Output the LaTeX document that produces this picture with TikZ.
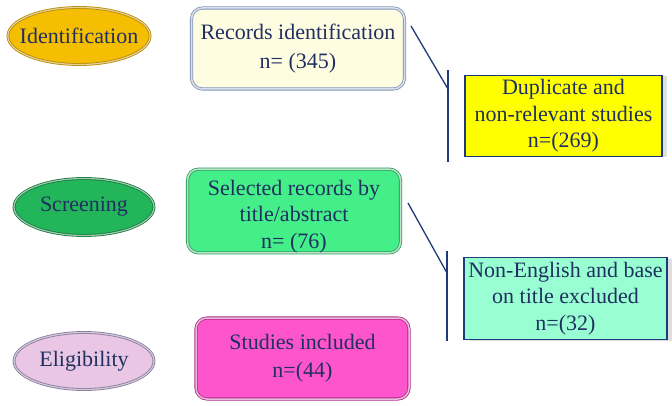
\documentclass[tikz,border=0pt]{standalone}
\usepackage{fontspec}
\setmainfont{Liberation Serif}
\usetikzlibrary{shapes.geometric,shadows}
\definecolor{txt}{HTML}{1F3060}
\definecolor{lnc}{HTML}{1F3A78}
\definecolor{goldf}{HTML}{F5BE00}\definecolor{goldd}{HTML}{B88A00}
\definecolor{creamf}{HTML}{FFFDE1}\definecolor{creamd}{HTML}{8096B8}
\definecolor{yelf}{HTML}{FFFF00}
\definecolor{gref}{HTML}{22B55A}\definecolor{gred}{HTML}{137A3C}
\definecolor{gbf}{HTML}{44EE88}\definecolor{gbd}{HTML}{2A9F58}
\definecolor{aquaf}{HTML}{99FFD2}
\definecolor{lavf}{HTML}{E8C6E4}\definecolor{lavd}{HTML}{8A7A9E}
\definecolor{pinkf}{HTML}{FF55CC}\definecolor{pinkd}{HTML}{B02888}
\tikzset{
  every node/.style={text=txt, font=\fontsize{22}{26.5}\selectfont, align=center, inner sep=0pt},
  stage/.style={ellipse, draw=#1, line width=0.8pt, double=white!60!#1, double distance=1.2pt, minimum width=140pt, minimum height=57pt},
  rbox/.style={rounded corners=11pt, draw=#1, line width=0.8pt, double=white!70!#1, double distance=1.5pt, minimum width=213pt, minimum height=81pt},
  sbox/.style={draw=lnc, line width=1.2pt, minimum height=81pt, drop shadow={shadow xshift=5pt, shadow yshift=-1pt, opacity=0.25}},
  conn/.style={draw=lnc, line width=1.3pt}
}
\begin{document}
\begin{tikzpicture}[x=1pt,y=-1pt]
\useasboundingbox (0,0) rectangle (672,406);
% stages
\node[stage=goldd, fill=goldf, inner xsep=-9pt] (id) at (79,36) {Identification};
\node[stage=gred, fill=gref] (scr) at (84,207) {Screening};
\node[stage=lavd, fill=lavf] (eli) at (84,361) {Eligibility};
% main boxes
\node[rbox=creamd, fill=creamf, font=\fontsize{22}{29}\selectfont] (rec) at (298,48.5) {Records identification\\n= (345)};
\node[rbox=gbd, fill=gbf] (sel) at (294,211) {\rule{0pt}{26pt}Selected records by\\title/abstract\\n= (76)};
\node[rbox=pinkd, fill=pinkf, font=\fontsize{22}{28}\selectfont] (stu) at (302.5,358.5) {Studies included\\n=(44)};
% side boxes
\node[sbox, fill=yelf, minimum width=197pt] (dup) at (563.5,116) {Duplicate and\\non-relevant studies\\n=(269)};
\node[sbox, fill=aquaf, minimum width=203pt, minimum height=82pt] (non) at (565.5,298.5) {Non-English and base\\on title excluded\\n=(32)};
% connectors
\coordinate (a1) at (411,26);
\coordinate (a2) at (448,89);
\coordinate (v1t) at (448,70);
\coordinate (v1b) at (448,162);
\coordinate (b1) at (408,203);
\coordinate (b2) at (447,273);
\coordinate (v2t) at (447,251);
\coordinate (v2b) at (447,341);
\draw[conn] (a1) -- (a2);
\draw[conn] (v1t) -- (v1b);
\draw[conn] (b1) -- (b2);
\draw[conn] (v2t) -- (v2b);
\end{tikzpicture}
\end{document}
